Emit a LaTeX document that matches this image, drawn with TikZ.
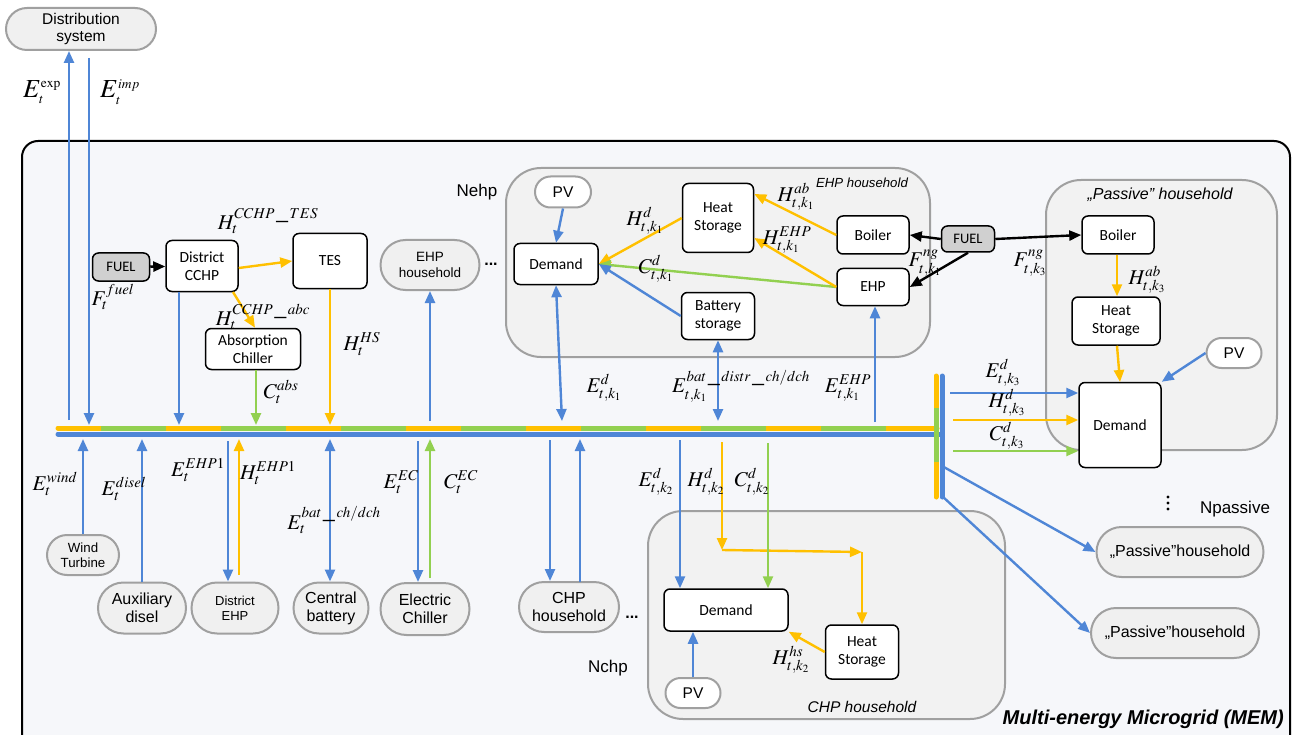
\documentclass[tikz,border=0pt]{standalone}
\usepackage{mathptmx}
\usepackage{fontspec}
\setmainfont{Liberation Sans}
\newfontfamily\calib{Carlito}
\DeclareMathSizes{21}{21}{15}{11}
\DeclareMathSizes{26}{26}{13.5}{10}
\usetikzlibrary{arrows.meta,shapes.misc}
\definecolor{eblue}{RGB}{79,134,214}
\definecolor{horange}{RGB}{255,192,0}
\definecolor{cgreen}{RGB}{146,208,80}
\definecolor{pillgray}{RGB}{160,160,160}
\definecolor{pillfill}{RGB}{240,240,240}
\definecolor{contfill}{RGB}{242,242,242}
\definecolor{outerfill}{RGB}{246,247,250}
\definecolor{fuelfill}{RGB}{208,208,208}
\tikzset{
 tip/.style={-{Triangle[length=12pt,width=10pt]}},
 dtip/.style={{Triangle[length=12pt,width=10pt]}-{Triangle[length=12pt,width=10pt]}},
 eline/.style={eblue, line width=2.4pt},
 hline/.style={horange, line width=2.4pt},
 cline/.style={cgreen, line width=2.4pt},
 fline/.style={black, line width=2.4pt},
 pill/.style={rounded rectangle, draw=pillgray, line width=2pt, fill=pillfill, align=center, inner sep=1pt, font=\fontsize{13.3}{15}\selectfont},
 bigpill/.style={pill, font=\fontsize{16}{18}\selectfont},
 wpill/.style={pill, fill=white, font=\fontsize{15.5}{17}\selectfont},
 box/.style={draw=black, line width=1.5pt, rounded corners=6pt, fill=white, align=center, font=\calib\fontsize{15.5}{17.5}\selectfont, inner sep=1pt},
 fuelbox/.style={box, fill=fuelfill, font=\calib\fontsize{14.5}{16}\selectfont},
 cont/.style={draw=pillgray, line width=2pt, rounded corners=35pt, fill=contfill},
 lab/.style={font=\fontsize{21}{23}\selectfont, inner sep=0pt},
 biglab/.style={font=\fontsize{26}{28}\selectfont, inner sep=0pt},
 plain/.style={font=\fontsize{17}{19}\selectfont, inner sep=0pt},
 ctitle/.style={font=\itshape\fontsize{13.2}{15}\selectfont, inner sep=0pt},
 busline/.style={line width=5pt, line cap=round},
}
\begin{document}
\begin{tikzpicture}[x=1pt,y=-1pt]
\useasboundingbox (0,0) rectangle (1295,735);
\fill[white] (0,0) rectangle (1295,735);
% outer frame
\begin{scope}
\clip (0,0) rectangle (1295,735);
\draw[black, line width=2pt, rounded corners=16pt, fill=outerfill] (22,141) rectangle (1290,770);
\end{scope}
\node[font=\bfseries\itshape\fontsize{20}{22}\selectfont, anchor=east, inner sep=0pt] (memtitle) at (1284,719) {Multi-energy Microgrid (MEM)};

% containers
\draw[cont] (506,168) rectangle (930,357);
\node[ctitle] (ehptitle) at (862,183) {EHP household};
\draw[cont] (1046,180) rectangle (1277,450);
\node[ctitle, font=\itshape\fontsize{16}{18}\selectfont] (pastitle) at (1160,195) {„Passive” household};
\draw[cont] (648,511) rectangle (1005,719);
\node[ctitle, font=\itshape\fontsize{15.5}{17}\selectfont] (chptitle) at (862,707) {CHP household};

% bus
\coordinate (busT) at (0,425);
\coordinate (busB) at (0,439);
\draw[busline, horange] (58,428) -- (937,428);
\draw[line width=5pt, cgreen, dash pattern=on 65pt off 55pt] (101,428) -- (937,428);
\draw[busline, eblue] (58,434) -- (941,434);
\draw[busline, horange] (936,376) -- (936,497);
\draw[line width=5pt, cgreen] (936,408) -- (936,462);
\draw[busline, eblue] (942,376) -- (942,497);

% top left
\node[pill, minimum width=152pt, minimum height=42pt, font=\fontsize{15.5}{17}\selectfont] (dist) at (81,29) {Distribution\\system};
\coordinate (expB) at (69,420);
\coordinate (impT) at (89,58);
\draw[eline, tip] (expB) -- (expB |- dist.south);
\draw[eline, tip] (impT) -- (impT |- busT);
\node[biglab] (lexp) at (42,92) {$E_t^{\exp}$};
\node[biglab] (limp) at (120,92) {$E_t^{imp}$};

% CCHP area
\node[fuelbox, minimum width=57pt, minimum height=28pt] (fuelL) at (121,267) {FUEL};
\node[box, minimum width=72pt, minimum height=51pt] (cchp) at (202,266) {District\\CCHP};
\node[box, minimum width=74pt, minimum height=55pt] (tes) at (330,261) {TES};
\node[box, minimum width=95pt, minimum height=41pt] (abs) at (253,349) {Absorption\\Chiller};
\draw[fline, tip] (fuelL) -- (cchp);
\node[lab] (lfuel) at (113,297) {$F_t^{fuel}$};
\draw[hline, tip] (cchp.east) ++(0,2) coordinate (cchpE) -- (tes.west);
\node[lab] (lcchptes) at (268,221) {$H_t^{CCHP\,\_\,TES}$};
\draw[hline, tip] (233,292) coordinate (cchpS) -- (abs.north -| 255,0);
\node[lab] (lcchpabc) at (263,317) {$H_t^{CCHP\,\_\,abc}$};
\coordinate (cchpB) at (179,292);
\draw[eline, tip] (cchpB) -- (cchpB |- busT);
\draw[cline, tip] (abs.south -| 256,0) coordinate (absB) -- (absB |- busT);
\node[lab] (labs) at (281,392) {$C_t^{abs}$};
\draw[hline, tip] (tes.south) -- (tes.south |- busT);
\node[lab] (lhs) at (362,344) {$H_t^{HS}$};

% EHP household pill
\node[pill, minimum width=101pt, minimum height=50pt, font=\fontsize{13.5}{15.5}\selectfont] (ehphh) at (430,265) {EHP\\household};
\coordinate (ehphhB) at (430,421);
\draw[eline, tip] (ehphhB) -- (ehphh.south);
\node[font=\bfseries\fontsize{16}{18}\selectfont, inner sep=0pt] (dots1) at (491,264) {...};
\node[plain] (nehp) at (477,192) {Nehp};

% EHP household content
\node[wpill, minimum width=58pt, minimum height=31pt] (pv1) at (563,192) {PV};
\node[box, minimum width=84pt, minimum height=41pt] (dem1) at (556,264) {Demand};
\node[box, minimum width=71pt, minimum height=69pt] (hs1) at (718,218) {Heat\\Storage};
\node[box, minimum width=73pt, minimum height=47pt] (bat1) at (718,316) {Battery\\storage};
\node[box, minimum width=72pt, minimum height=38pt] (boil1) at (873,235) {Boiler};
\node[box, minimum width=72pt, minimum height=37pt] (ehp1) at (873,287) {EHP};
\draw[eline, tip] (pv1.south) -- (dem1.north);
\draw[hline, tip] (hs1.west) -- (dem1.east);
\draw[cline, tip] (ehp1.west) -- (dem1.east);
\draw[eline, tip] (bat1.west) -- (dem1.east);
\node[lab] (lhd1) at (645,221) {$H^d_{t,k_1}$};
\node[lab] (lcd1) at (656,269) {$C^d_{t,k_1}$};
\draw[hline, tip] (boil1.west) -- (hs1.east |- 0,194);
\draw[hline, tip] (ehp1.west) -- (hs1.east |- 0,238);
\node[lab] (lhab1) at (796,197) {$H^{ab}_{t,k_1}$};
\node[lab] (lhehp1) at (787,240) {$H^{EHP}_{t,k_1}$};

\node[fuelbox, minimum width=53pt, minimum height=26pt] (fuelR) at (968,239) {FUEL};
\draw[fline, tip] (fuelR.west) -- (boil1.east);
\draw[fline, tip] (fuelR.south) -- (ehp1.east);
\node[lab] (lfng1) at (925,263) {$F^{ng}_{t,k_1}$};

\coordinate (dem1B) at (562,421);
\draw[eline, dtip] (dem1.south) -- (dem1B);
\node[lab] (led1) at (604,388) {$E^d_{t,k_1}$};
\coordinate (bat1B) at (718,421);
\draw[eline, dtip] (bat1.south) -- (bat1B);
\node[lab] (lbat1) at (741,386) {$E^{bat\,\_\,distr\,\_\,ch/dch}_{t,k_1}$};
\coordinate (ehp1B) at (875,422);
\draw[eline, tip] (ehp1B) -- (ehp1.south -| ehp1B);
\node[lab] (leehp1) at (848,388) {$E^{EHP}_{t,k_1}$};

% passive household
\node[box, minimum width=72pt, minimum height=38pt] (boil3) at (1118,235) {Boiler};
\node[box, minimum width=88pt, minimum height=48pt] (hs3) at (1116,321) {Heat\\Storage};
\node[wpill, minimum width=57pt, minimum height=30pt] (pv3) at (1234,353) {PV};
\node[box, minimum width=82pt, minimum height=85pt] (dem3) at (1120,425) {Demand};
\draw[fline, tip] (fuelR.east) -- (boil3.west);
\node[lab] (lfng3) at (1030,263) {$F^{ng}_{t,k_3}$};
\draw[hline, tip] (boil3.south -| 1117,0) coordinate (boil3B) -- (boil3B |- hs3.north);
\node[lab] (lhab3) at (1147,280) {$H^{ab}_{t,k_3}$};
\draw[hline, tip] (hs3.south -| 1117,0) -- (1120,382);
\draw[eline, tip] (pv3.west) -- (dem3.north east);
\coordinate (vbE) at (950,393);
\coordinate (vbH) at (953,420);
\coordinate (vbC) at (953,451);
\draw[eline, tip] (vbE) -- (vbE -| dem3.west);
\draw[hline, tip] (vbH) -- (vbH -| dem3.west);
\draw[cline, tip] (vbC) -- (vbC -| dem3.west);
\node[lab] (led3) at (1003,373) {$E^d_{t,k_3}$};
\node[lab] (lhd3) at (1007,403) {$H^d_{t,k_3}$};
\node[lab] (lcd3) at (1007,436) {$C^d_{t,k_3}$};

\node[bigpill, minimum width=169pt, minimum height=50pt] (pas1) at (1180,552) {„Passive”household};
\node[bigpill, minimum width=170pt, minimum height=50pt] (pas2) at (1175,633) {„Passive”household};
\coordinate (vb1) at (942,466);
\coordinate (vb2) at (942,496);
\draw[eline, tip] (vb1) -- (pas1.west);
\draw[eline, tip] (vb2) -- (pas2.west);
\foreach \yy in {497,503,509} \fill (1168,\yy) circle (1.6pt);
\node[plain] (npas) at (1235,509) {Npassive};

% bottom nodes
\node[pill, minimum width=74pt, minimum height=40pt] (wind) at (83,555) {Wind\\Turbine};
\draw[eline, tip] (wind.north) -- (wind.north |- busB);
\node[lab] (lwind) at (55,484) {$E_t^{wind}$};
\node[bigpill, minimum width=90pt, minimum height=51pt] (aux) at (142,608) {Auxiliary\\disel};
\draw[eline, tip] (aux.north) -- (aux.north |- busB);
\node[lab] (ldisel) at (124,489) {$E_t^{disel}$};
\node[pill, minimum width=89pt, minimum height=51pt, font=\fontsize{13}{15}\selectfont] (dehp) at (235,608) {District\\EHP};
\coordinate (dehpT) at (228,441);
\draw[eline, tip] (dehpT) -- (dehpT |- dehp.north);
\coordinate (dehpH) at (239,575);
\draw[hline, tip] (dehpH) -- (dehpH |- busB);
\node[lab] (leehp) at (198,470) {$E_t^{EHP1}$};
\node[lab] (lhehp) at (268,473) {$H_t^{EHP1}$};
\node[bigpill, minimum width=77pt, minimum height=51pt] (cbat) at (331,608) {Central\\battery};
\coordinate (cbatT) at (330,439);
\draw[eline, dtip] (cbatT) -- (cbatT |- cbat.north);
\node[lab] (lcbat) at (334,520) {$E_t^{bat\,\_\,ch/dch}$};
\node[bigpill, minimum width=91pt, minimum height=52pt] (echil) at (425,609) {Electric\\Chiller};
\coordinate (echT) at (418,441);
\draw[eline, tip] (echT) -- (echT |- echil.north);
\coordinate (echC) at (430,578);
\draw[cline, tip] (echC) -- (echC |- busB);
\node[lab] (leec) at (401,482) {$E_t^{EC}$};
\node[lab] (lcec) at (461,482) {$C_t^{EC}$};
\node[bigpill, minimum width=102pt, minimum height=50pt] (chphh) at (569,607) {CHP\\household};
\coordinate (chpT) at (550,440);
\draw[eline, tip] (chpT) -- (chpT |- chphh.north);
\coordinate (chpU) at (580,582);
\draw[eline, tip] (chpU) -- (chpU |- busB);
\node[font=\bfseries\fontsize{16}{18}\selectfont, inner sep=0pt] (dots2) at (632,617) {...};
\node[plain] (nchp) at (608,668) {Nchp};

% CHP household content
\node[box, minimum width=124pt, minimum height=42pt] (dem2) at (726,610) {Demand};
\node[box, minimum width=73pt, minimum height=54pt] (hs2) at (862,652) {Heat\\Storage};
\node[wpill, minimum width=57pt, minimum height=30pt] (pv2) at (693,693) {PV};
\coordinate (d2E) at (680,440);
\draw[eline, tip] (d2E) -- (d2E |- dem2.north);
\coordinate (d2H) at (722,442);
\coordinate (d2Hc) at (722,550);
\coordinate (d2Hr) at (862,552);
\draw[hline, tip] (d2H) -- (d2Hc);
\draw[hline, tip] (d2Hc) -- (d2Hr);
\draw[hline, tip] (d2Hr) -- (hs2.north);
\coordinate (d2C) at (768,443);
\draw[cline, tip] (d2C) -- (d2C |- dem2.north);
\node[lab] (led2) at (656,482) {$E^d_{t,k_2}$};
\node[lab] (lhd2) at (706,482) {$H^d_{t,k_2}$};
\node[lab] (lcd2) at (752,482) {$C^d_{t,k_2}$};
\draw[hline, tip] (hs2.west) -- (dem2.south east);
\node[lab] (lhhs2) at (791,660) {$H^{hs}_{t,k_2}$};
\draw[eline, tip] (pv2.north) -- (pv2.north |- dem2.south);
\end{tikzpicture}
\end{document}
